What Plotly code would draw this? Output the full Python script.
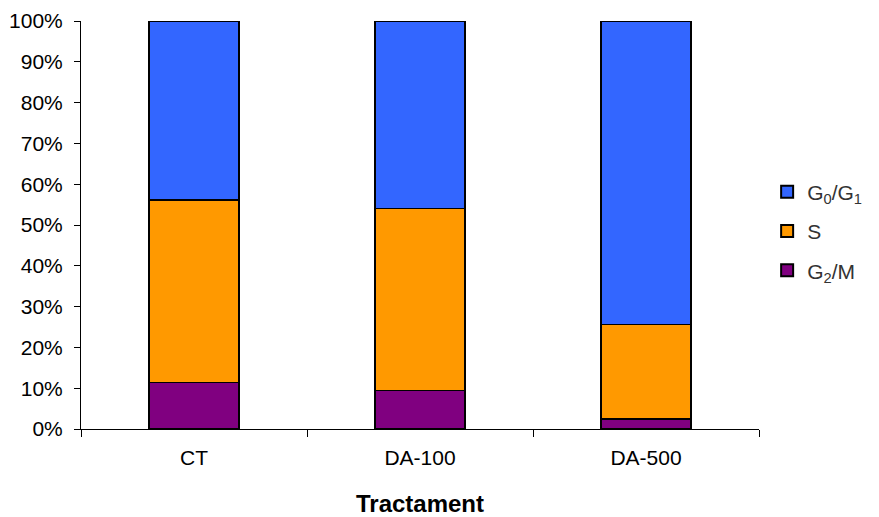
import plotly.graph_objects as go

categories = ["CT", "DA-100", "DA-500"]
g2m = [0.114, 0.094, 0.024]
s_phase = [0.447, 0.446, 0.232]
g0g1 = [0.439, 0.460, 0.744]
series_names = ["G<sub>2</sub>/M", "S", "G<sub>0</sub>/G<sub>1</sub>"]
series_colors = ["#800080", "#FF9900", "#3366FF"]
legend_ranks = [3, 2, 1]
tick_vals = [i / 10 for i in range(11)]

fig = go.Figure()
for name, vals, col, rank in zip(series_names, [g2m, s_phase, g0g1], series_colors, legend_ranks):
    fig.add_trace(go.Bar(
        x=categories, y=vals, name=name, legendgroup=name, legendrank=rank,
        marker=dict(color=col, line=dict(color="black", width=1.5)),
    ))

# page body has an 8px margin, so the figure is drawn 8px smaller/shifted
fig.update_layout(
    barmode="stack",
    bargap=0.6,
    width=871, height=509,
    margin=dict(l=73, r=120, t=13, b=88, autoexpand=False),
    plot_bgcolor="white", paper_bgcolor="white",
    font=dict(family="Liberation Sans, Arial, sans-serif", size=21, color="black"),
    showlegend=True,
    legend=dict(
        traceorder="grouped",
        x=1.012, xref="paper", xanchor="left",
        y=0.485, yanchor="middle",
        font=dict(size=21, color="#333333"),
        itemsizing="constant",
        tracegroupgap=9,
    ),
    xaxis=dict(
        automargin=False,
        showline=True, linecolor="black", linewidth=1,
        ticks="outside", tickson="boundaries", ticklen=7, tickcolor="black",
        ticklabelstandoff=10,
        tickfont=dict(size=21),
        title=dict(text="<b>Tractament</b>", font=dict(size=24), standoff=26),
    ),
    yaxis=dict(
        automargin=False,
        range=[0, 1], tickvals=tick_vals, tickformat=".0%",
        showline=True, linecolor="black", linewidth=1,
        ticks="outside", ticklen=6, tickcolor="black",
        ticklabelstandoff=7,
        showgrid=False, zeroline=False,
        tickfont=dict(size=21),
    ),
)

fig.write_html("out.html")
